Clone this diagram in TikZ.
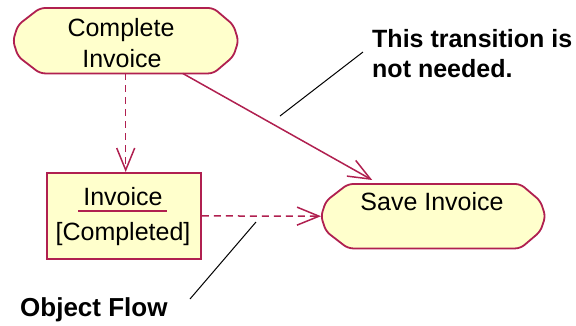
\documentclass[tikz,border=0pt]{standalone}
\usepackage{fontspec}
\setmainfont{Liberation Sans}
\usetikzlibrary{arrows.meta,calc,backgrounds}
\definecolor{umlline}{RGB}{176,32,80}
\definecolor{umlfill}{RGB}{255,255,204}
\tikzset{
  holder/.style={draw=none, inner sep=0pt, anchor=north west},
  outline/.style={draw=umlline, fill=umlfill, line width=1.8pt},
  lbl/.style={font=\fontsize{25}{30}\selectfont, inner sep=0pt, anchor=base},
  note/.style={font=\fontsize{25}{30}\selectfont\bfseries, inner sep=0pt, anchor=base west},
  barb/.style={-{Straight Barb[length=22pt,width=18pt,line width=1.5pt]}},
  flow/.style={draw=umlline, line width=1.5pt, barb},
  objflow/.style={flow, dash pattern=on 7pt off 5pt},
  pointer/.style={draw=black, line width=1pt}
}
% activity outline: flat top and bottom, faceted round ends
\newcommand\activityoutline[1]{%
  \path[outline, rounded corners=5pt]
    ($(#1.north west)+(27,0)$) -- ($(#1.north east)+(-25,0)$)
    -- ($(#1.north east)+(-5,17)$) -- (#1.east)
    -- ($(#1.south east)+(-5,-17)$) -- ($(#1.south east)+(-25,0)$)
    -- ($(#1.south west)+(27,0)$) -- ($(#1.south west)+(5,-17)$)
    -- (#1.west) -- ($(#1.north west)+(5,17)$) -- cycle;}
\begin{document}
\begin{tikzpicture}[x=1pt,y=-1pt]
  \useasboundingbox (0,0) rectangle (576,325);

  % shape placeholders
  \node[holder, minimum width=225pt, minimum height=65pt] (ci) at (13,8) {};
  \node[holder, minimum width=224pt, minimum height=64pt] (si) at (321,184) {};
  \node[holder, outline, minimum width=154pt, minimum height=86pt] (io) at (46,172) {};

  \begin{scope}[on background layer]
    \activityoutline{ci}
    \activityoutline{si}
  \end{scope}

  % texts inside the shapes
  \node[lbl] (ciA) at (121,36) {Complete};
  \node[lbl] (ciB) at (122,67) {Invoice};
  \node[lbl] (ioA) at (123,205) {Invoice};
  \node[lbl] (ioB) at (123,240) {[Completed]};
  \node[lbl] (siA) at (432,210) {Save Invoice};
  \draw[umlline, line width=1.6pt] ($(ioA.base west)+(-5,6)$) -- ($(ioA.base east)+(4,6)$);

  % notes
  \node[note] (n1) at (372,47) {This transition is};
  \node[note] (n2) at (372,77) {not needed.};
  \node[note, font=\fontsize{26}{30}\selectfont\bfseries] (of) at (20,316) {Object Flow};

  % connectors
  \coordinate (ciOut) at ($(ci.south)+(57,0)$);
  \coordinate (siIn) at ($(si.north)+(-61,-4)$);
  \draw[objflow] (ci.south) -- (ci.south |- io.north);
  \draw[flow] (ciOut) -- (siIn);
  \draw[objflow] (io.east) -- (si.west);

  % note pointers
  \coordinate (p1a) at (280,116);
  \coordinate (p1b) at (363,52);
  \coordinate (p2a) at (190,299);
  \coordinate (p2b) at (256,222);
  \draw[pointer] (p1a) -- (p1b);
  \draw[pointer] (p2a) -- (p2b);
\end{tikzpicture}
\end{document}
